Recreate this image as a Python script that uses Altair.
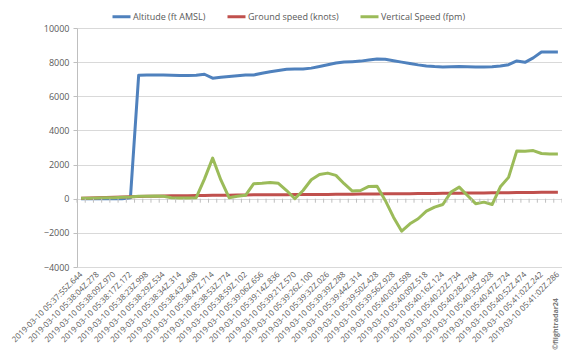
import altair as alt
import pandas as pd

tick_labels = [
    "2019-03-10 05:37:55Z.644", "2019-03-10 05:38:04Z.278", "2019-03-10 05:38:09Z.970",
    "2019-03-10 05:38:17Z.172", "2019-03-10 05:38:23Z.998", "2019-03-10 05:38:29Z.534",
    "2019-03-10 05:38:34Z.314", "2019-03-10 05:38:43Z.408", "2019-03-10 05:38:47Z.714",
    "2019-03-10 05:38:53Z.774", "2019-03-10 05:38:59Z.102", "2019-03-10 05:39:06Z.656",
    "2019-03-10 05:39:14Z.836", "2019-03-10 05:39:21Z.570", "2019-03-10 05:39:26Z.100",
    "2019-03-10 05:39:32Z.026", "2019-03-10 05:39:39Z.288", "2019-03-10 05:39:44Z.314",
    "2019-03-10 05:39:50Z.428", "2019-03-10 05:39:56Z.928", "2019-03-10 05:40:03Z.598",
    "2019-03-10 05:40:09Z.518", "2019-03-10 05:40:16Z.124", "2019-03-10 05:40:22Z.734",
    "2019-03-10 05:40:28Z.784", "2019-03-10 05:40:35Z.928", "2019-03-10 05:40:47Z.724",
    "2019-03-10 05:40:52Z.474", "2019-03-10 05:41:02Z.242", "2019-03-10 05:41:02Z.286",
]

altitude = [
    0, 0, 0, 0, 0, 0, 50,
    7230, 7240, 7240, 7240, 7230, 7220, 7220, 7230, 7290, 7060, 7120, 7160, 7200,
    7240, 7250, 7350, 7440, 7510, 7580, 7600, 7600, 7650, 7750, 7850, 7950, 8010,
    8030, 8060, 8120, 8190, 8170, 8080, 8000, 7920, 7840, 7780, 7740, 7720, 7730,
    7740, 7730, 7720, 7720, 7730, 7770, 7850, 8070, 7990, 8250, 8590, 8590, 8590,
]

ground_speed = [
    30, 45, 60, 75, 90, 105, 120, 135, 145, 150, 160, 170, 175, 180, 190, 195, 200,
    205, 210, 215, 220, 225, 230, 232, 235, 238, 240, 243, 246, 248, 250, 255, 260,
    265, 270, 275, 280, 285, 290, 292, 295, 300, 305, 310, 315, 320, 325, 330, 335,
    340, 345, 350, 355, 360, 365, 370, 375, 380, 385,
]

vertical_speed = [
    20, 30, 40, 50, 60, 80, 100, 150, 150, 160, 150, 60, 40, 40, 60, 1150, 2380,
    1100, 60, 150, 200, 880, 900, 950, 900, 480, 0, 480, 1110, 1420, 1500, 1370,
    880, 450, 480, 720, 730, -100, -1080, -1900, -1470, -1175, -730, -490, -340,
    390, 680, 190, -290, -200, -340, 700, 1250, 2800, 2780, 2820, 2650, 2620, 2620,
]

series_names = ["Altitude (ft AMSL)", "Ground speed (knots)", "Vertical Speed (fpm)"]
series_colors = ["#4F81BD", "#C0504D", "#9BBB59"]
y_ticks = [-4000, -2000, 0, 2000, 4000, 6000, 8000, 10000]

n = len(altitude)
rows = []
for name, vals in zip(series_names, [altitude, ground_speed, vertical_speed]):
    for i, v in enumerate(vals):
        rows.append({"idx": i, "value": v, "series": name})
df = pd.DataFrame(rows)

tick_df = pd.DataFrame({"b": [i - 0.5 for i in range(n + 1)]})

label_js = "[" + ",".join("'" + s + "'" for s in tick_labels) + "]"
x_scale = alt.Scale(domain=[-0.5, n - 0.5], nice=False, zero=False)
y_scale = alt.Scale(domain=[-4000, 10000], nice=False)

grey = "#595959"

x_axis = alt.Axis(
    values=list(range(0, n, 2)),
    labelExpr=label_js + "[round(datum.value/2)]",
    labelAngle=-45,
    labelAlign="right",
    labelBaseline="middle",
    labelOverlap=False,
    labelFlush=False,
    labelBound=False,
    domain=False,
    ticks=False,
    grid=False,
    title=None,
    labelFontSize=8,
    labelColor=grey,
    labelPadding=6,
)

y_axis = alt.Axis(
    values=y_ticks,
    format="d",
    labelOverlap=False,
    title=None,
    grid=True,
    gridColor="#d9d9d9",
    domainColor="#bfbfbf",
    tickColor="#bfbfbf",
    tickSize=4,
    labelPadding=4,
    labelFontSize=9,
    labelColor=grey,
)

lines = alt.Chart(df).mark_line(strokeWidth=3, strokeJoin="round").encode(
    x=alt.X("idx:Q", scale=x_scale, axis=x_axis),
    y=alt.Y("value:Q", scale=y_scale, axis=y_axis),
    color=alt.Color(
        "series:N",
        scale=alt.Scale(domain=series_names, range=series_colors),
        legend=alt.Legend(
            orient="none",
            legendX=34,
            legendY=-22,
            direction="horizontal",
            title=None,
            symbolType="stroke",
            symbolSize=324,
            symbolStrokeWidth=3,
            labelFontSize=9,
            labelColor=grey,
            labelOffset=1,
            columnPadding=15,
        ),
    ),
)

zero_ticks = alt.Chart(tick_df).mark_rule(color="#bfbfbf", strokeWidth=1, y2Offset=4).encode(
    x=alt.X("b:Q", scale=x_scale, axis=x_axis),
    y=alt.Y(datum=0, scale=y_scale, axis=y_axis),
    y2=alt.datum(0),
)

watermark = alt.Chart(pd.DataFrame({"t": ["\u00a9flightradar24"]})).mark_text(
    angle=270, fontSize=7, color="#777777", fontWeight="bold"
).encode(x=alt.value(479), y=alt.value(296), text="t:N")

chart = alt.layer(lines, zero_ticks, watermark).properties(
    width=485,
    height=239,
    autosize=alt.AutoSizeParams(type="none"),
    padding={"left": 69, "top": 20, "right": 0, "bottom": 83},
).configure(font="Open Sans").configure_view(stroke=None)

chart.save("out.html", embed_options={"renderer": "svg", "actions": False})
